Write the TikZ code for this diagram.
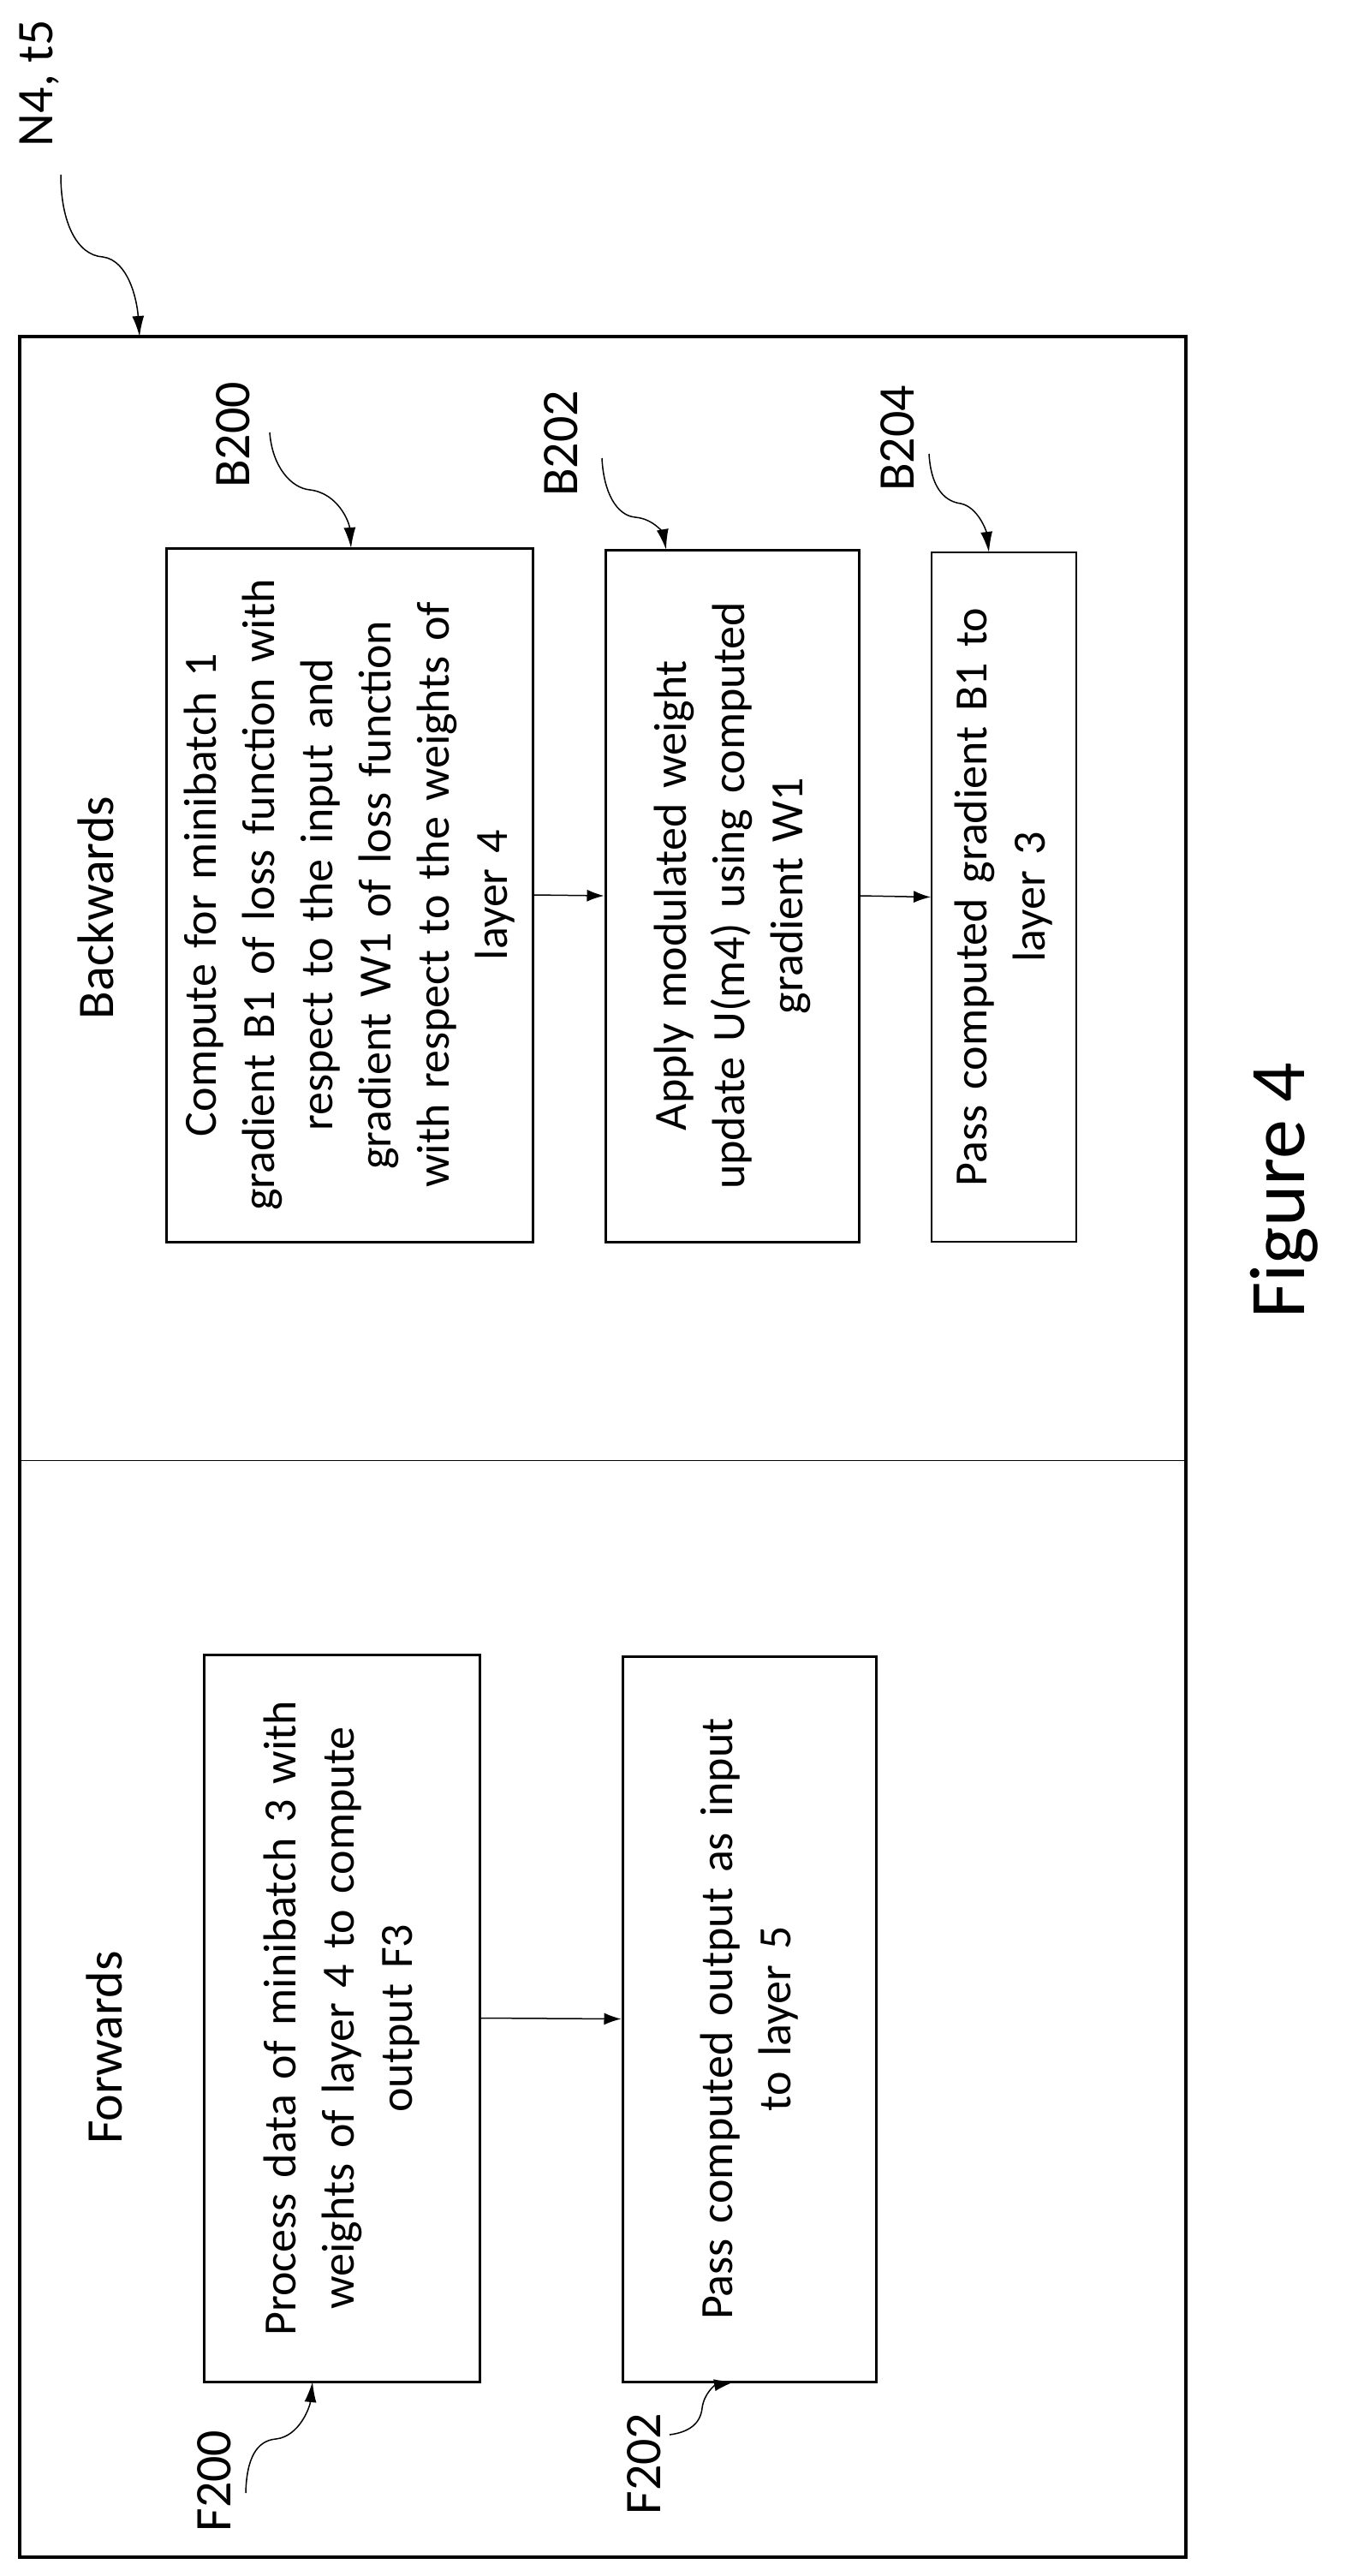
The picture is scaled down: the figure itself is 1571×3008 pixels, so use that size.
\documentclass[tikz,border=0pt]{standalone}
\usepackage{fontspec}
\setmainfont{Carlito}
\usetikzlibrary{arrows.meta}
\begin{document}
\begin{tikzpicture}[x=1pt,y=-1pt,
  box/.style={draw,line width=3pt,rotate=90,align=center,inner sep=0pt,font=\fontsize{54}{68}\selectfont},
  lbl/.style={rotate=90,inner sep=0pt,font=\fontsize{60}{72}\selectfont},
  flow/.style={line width=1.5pt,-{Latex[length=20pt,width=14pt]}},
  lead/.style={line width=1.5pt,-{Latex[length=24pt,width=14pt]}}]
\useasboundingbox (0,0) rectangle (1571,3008);
\node[draw,line width=4pt,minimum width=1362pt,minimum height=2593pt,inner sep=0pt] (frame) at (704,1689.5) {};
\coordinate (dl) at (23,1705); \coordinate (dr) at (1385,1705);
\draw[line width=1pt] (dl) -- (dr);
\node[lbl] (n4) at (46,97) {N4, t5};
\node[lbl] (bw) at (112,1060) {Backwards};
\node[lbl] (fw) at (122,2391) {Forwards};
\node[rotate=90,inner sep=0pt,font=\fontsize{92}{100}\selectfont] (fig) at (1500,1390) {Figure 4};
% boxes
\node[box,minimum width=810pt,minimum height=428pt,text width=780pt] (b200) at (408,1045)
 {Compute for minibatch 1\\gradient B1 of loss function with\\respect to the input and\\gradient W1 of loss function\\with respect to the weights of\\layer 4};
\node[box,minimum width=808pt,minimum height=296pt,text width=780pt] (b202) at (855,1046)
 {Apply modulated weight\\update U(m4) using computed\\gradient W1};
\node[box,line width=2pt,minimum width=805pt,minimum height=169pt,text width=780pt] (b204) at (1172.5,1047.5)
 {Pass computed gradient B1 to\\layer 3};
\node[box,minimum width=849pt,minimum height=322pt,text width=820pt] (f200) at (399,2356.5)
 {Process data of minibatch 3 with\\weights of layer 4 to compute\\output F3};
\node[box,minimum width=847pt,minimum height=296pt,text width=820pt] (f202) at (875,2357.5)
 {Pass computed output as input\\to layer 5};
\draw[flow] (b200.south) -- (b202.north);
\draw[flow] (b202.south) -- (b204.north);
\draw[flow] (f200.south) -- (f202.north);
% labels
\node[lbl] (lb200) at (272,508) {B200};
\node[lbl] (lb202) at (655,518) {B202};
\node[lbl] (lb204) at (1048,512) {B204};
\node[lbl] (lf200) at (250,2897) {F200};
\node[lbl] (lf202) at (752,2877) {F202};
% leaders
\coordinate (s0) at (71,204); \coordinate (e0) at (163,393);
\draw[lead] (s0) .. controls (71,260) and (90,298) .. (120,300) .. controls (150,304) and (160,350) .. (e0);
\coordinate (s1) at (315,505); \coordinate (e1) at (410,640);
\draw[lead] (s1) .. controls (318,545) and (340,570) .. (362,572) .. controls (395,576) and (408,610) .. (e1);
\coordinate (s2) at (703,535); \coordinate (e2) at (778,642);
\draw[lead] (s2) .. controls (705,575) and (720,602) .. (742,604) .. controls (765,606) and (775,625) .. (e2);
\coordinate (s3) at (1085,530); \coordinate (e3) at (1155,645);
\draw[lead] (s3) .. controls (1087,565) and (1100,585) .. (1122,588) .. controls (1142,592) and (1152,620) .. (e3);
\coordinate (s4) at (287,2911); \coordinate (e4) at (365,2781);
\draw[lead] (s4) .. controls (288,2870) and (300,2850) .. (322,2848) .. controls (350,2845) and (362,2810) .. (e4);
\coordinate (s5) at (782,2843); \coordinate (e5) at (858,2781);
\draw[lead] (s5) .. controls (805,2840) and (818,2830) .. (820,2812) .. controls (822,2795) and (835,2785) .. (e5);
\end{tikzpicture}
\end{document}
